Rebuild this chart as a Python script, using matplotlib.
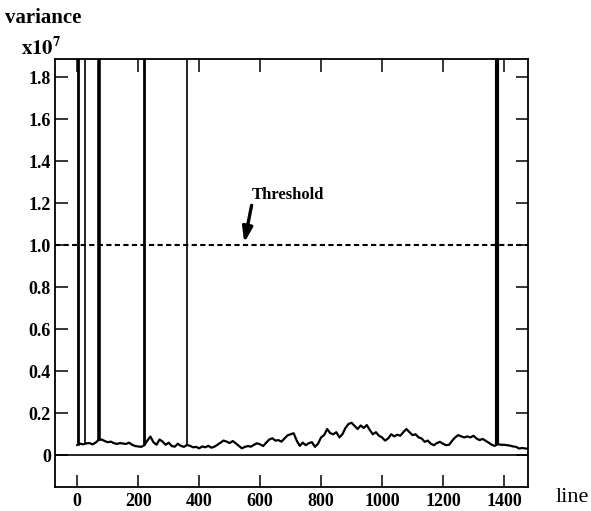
import matplotlib
matplotlib.use("Agg")
import matplotlib.pyplot as plt

# variance per scan line (units of 1e7), every 10 lines
line_x = list(range(0, 1490, 10))
variance = [
    0.049, 0.055, 0.052, 0.057, 0.058, 0.052, 0.060, 0.073, 0.075, 0.068,
    0.062, 0.065, 0.058, 0.054, 0.058, 0.056, 0.054, 0.060, 0.050, 0.044,
    0.042, 0.040, 0.048, 0.070, 0.089, 0.062, 0.050, 0.075, 0.065, 0.050,
    0.060, 0.044, 0.041, 0.055, 0.045, 0.040, 0.049, 0.045, 0.038, 0.040,
    0.033, 0.042, 0.038, 0.045, 0.036, 0.041, 0.050, 0.060, 0.070, 0.065,
    0.058, 0.068, 0.057, 0.045, 0.033, 0.040, 0.044, 0.041, 0.050, 0.057,
    0.052, 0.044, 0.060, 0.075, 0.081, 0.070, 0.072, 0.065, 0.080, 0.095,
    0.100, 0.105, 0.070, 0.045, 0.060, 0.048, 0.058, 0.062, 0.040, 0.055,
    0.085, 0.096, 0.125, 0.105, 0.100, 0.110, 0.085, 0.100, 0.130, 0.149,
    0.155, 0.140, 0.125, 0.142, 0.130, 0.144, 0.120, 0.100, 0.110, 0.093,
    0.085, 0.070, 0.080, 0.100, 0.090, 0.098, 0.093, 0.110, 0.125, 0.110,
    0.096, 0.100, 0.085, 0.080, 0.064, 0.070, 0.055, 0.048, 0.058, 0.064,
    0.055, 0.048, 0.050, 0.069, 0.085, 0.096, 0.090, 0.085, 0.090, 0.085,
    0.093, 0.080, 0.072, 0.078, 0.069, 0.060, 0.050, 0.045, 0.053, 0.050,
    0.050, 0.048, 0.046, 0.042, 0.040, 0.032, 0.035, 0.032, 0.032,
]

# spikes that run off the top of the plot
spike_x = [2, 26, 72, 220, 360, 1378]
spike_base = [0.049, 0.057, 0.073, 0.048, 0.049, 0.053]
spike_top = [2.5, 2.5, 2.5, 2.5, 2.5, 2.5]
spike_lw = [2.0, 1.2, 2.6, 2.0, 1.2, 3.0]

threshold = 1.0
yticks = [0, 0.2, 0.4, 0.6, 0.8, 1.0, 1.2, 1.4, 1.6, 1.8]
ylabels = ["0", "0.2", "0.4", "0.6", "0.8", "1.0", "1.2", "1.4", "1.6", "1.8"]
xticks = [0, 200, 400, 600, 800, 1000, 1200, 1400]

plt.rcParams["font.family"] = "Liberation Serif"
plt.rcParams["mathtext.fontset"] = "stix"

fig = plt.figure(figsize=(5.91, 5.11), dpi=100)
ax = fig.add_axes([0.0931, 0.047, 0.8003, 0.8375])

ax.plot(line_x[:len(variance)], variance, color="black", lw=1.6)
for x, b, t, w in zip(spike_x, spike_base, spike_top, spike_lw):
    ax.vlines(x, b, t, color="black", lw=w)

ax.axhline(0, color="black", lw=1.2)
ax.axhline(threshold, color="black", lw=1.5, ls=(0, (2.5, 1.6)))

ax.set_xlim(-73, 1479)
ax.set_ylim(-0.151, 1.887)
ax.set_yticks(yticks)
ax.set_yticklabels(ylabels, fontsize=13, fontweight="bold")
ax.set_xticks(xticks)
ax.set_xticklabels([str(v) for v in xticks], fontsize=13, fontweight="bold")
ax.tick_params(direction="in", length=9, width=1.1, top=True, right=True, pad=4)
ax.tick_params(axis="y", pad=3)
for s in ax.spines.values():
    s.set_linewidth(1.3)

ax.text(692, 1.24, "Threshold", fontsize=12, fontweight="bold",
        ha="center", va="center")
ax.annotate("", xy=(548, 1.012), xytext=(572, 1.19),
            arrowprops=dict(arrowstyle="-|>,head_length=0.9,head_width=0.3",
                            color="black", lw=2.4, shrinkA=0, shrinkB=0))

fig.text(0.008, 0.965, "variance", fontsize=15, fontweight="bold", va="center")
fig.text(0.036, 0.905, r"$\mathbf{x10^7}$", fontsize=15, va="center")
fig.text(0.94, 0.027, "line", fontsize=16, va="center")

fig.savefig("out.png", dpi=100)
